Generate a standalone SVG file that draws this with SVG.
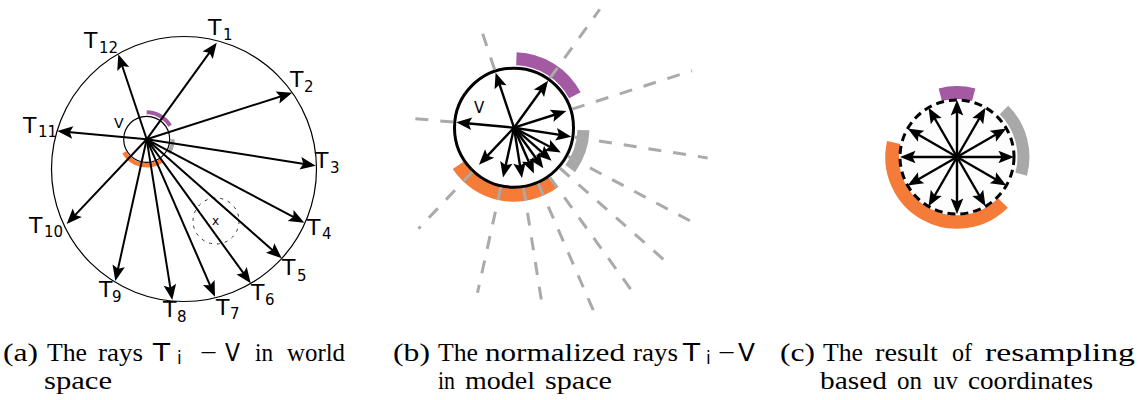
<svg xmlns="http://www.w3.org/2000/svg" width="1138" height="400" viewBox="0 0 1138 400">
<style>
.ray{stroke:#000;stroke-width:2;fill:none;marker-end:url(#ah)}
.rayb{stroke:#000;stroke-width:2.4;fill:none;marker-end:url(#ah)}
.dash{stroke:#aaa;stroke-width:3;stroke-dasharray:13 12;fill:none}
.lbl{font-family:"DejaVu Sans",sans-serif;font-size:22px;fill:#000}
.sub{font-size:15px}
.cap{font-family:"Liberation Serif",serif;font-size:25px;fill:#000}
.cs{font-family:"DejaVu Sans",sans-serif;font-size:24px;fill:#000}
.purple{stroke:#a45aa3;fill:none}
.orange{stroke:#f47b38;fill:none}
.gray{stroke:#a8a8a8;fill:none}
</style>
<defs>
<marker id="ah" viewBox="-17 -8 17 16" markerWidth="17" markerHeight="16" refX="-5" refY="0" orient="auto" markerUnits="userSpaceOnUse">
<path d="M0,0 L-15.5,-6.3 L-12.5,0 L-15.5,6.3 Z" fill="#000"/>
</marker>
</defs>
<rect width="1138" height="400" fill="#fff"/>

<!-- Panel (a) -->
<g id="panel-a">
  <g id="a-circles">
    <circle cx="184" cy="169" r="132.5" fill="none" stroke="#000" stroke-width="1.2"/>
    <circle cx="146.7" cy="139.3" r="23" fill="none" stroke="#000" stroke-width="1.2"/>
    <circle cx="216" cy="221" r="23" fill="none" stroke="#333" stroke-width="1" stroke-dasharray="3 5"/>
    <path class="purple" stroke-width="4" d="M146.7,112.3 A27,27 0 0 1 170.1,125.8"/>
    <path class="gray" stroke-width="4" d="M172.7,139.3 A26,26 0 0 1 168.75,153.1"/>
    <path class="orange" stroke-width="4.5" d="M161.6,160.6 A26,26 0 0 1 124.2,152.3"/>
  </g>
  <g id="a-rays">
    <line class="ray" x1="146.7" y1="139.3" x2="213.8" y2="46.7"/>
    <line class="ray" x1="146.7" y1="139.3" x2="287.5" y2="94.2"/>
    <line class="ray" x1="146.7" y1="139.3" x2="310.8" y2="164.9"/>
    <line class="ray" x1="146.7" y1="139.3" x2="299.9" y2="220.4"/>
    <line class="ray" x1="146.7" y1="139.3" x2="278.0" y2="255.0"/>
    <line class="ray" x1="146.7" y1="139.3" x2="247.8" y2="279.2"/>
    <line class="ray" x1="146.7" y1="139.3" x2="213.0" y2="292.1"/>
    <line class="ray" x1="146.7" y1="139.3" x2="171.5" y2="295.1"/>
    <line class="ray" x1="146.7" y1="139.3" x2="116.4" y2="276.1"/>
    <line class="ray" x1="146.7" y1="139.3" x2="70.1" y2="220.4"/>
    <line class="ray" x1="146.7" y1="139.3" x2="62.3" y2="131.5"/>
    <line class="ray" x1="146.7" y1="139.3" x2="119.9" y2="59.0"/>
  </g>
  <g id="a-labels">
    <text class="lbl" x="114" y="128" style="font-size:14px">V</text>
    <text class="lbl" x="212" y="225" style="font-size:12px">x</text>
    <text id="T1" class="lbl" x="208" y="35">T<tspan class="sub" x="223" y="40">1</tspan></text>
    <text id="T2" class="lbl" x="290" y="87">T<tspan class="sub" x="304" y="92">2</tspan></text>
    <text id="T3" class="lbl" x="315" y="168">T<tspan class="sub" x="330" y="173">3</tspan></text>
    <text id="T4" class="lbl" x="307" y="235">T<tspan class="sub" x="322" y="239">4</tspan></text>
    <text id="T5" class="lbl" x="282" y="275">T<tspan class="sub" x="297" y="281">5</tspan></text>
    <text id="T6" class="lbl" x="251" y="300">T<tspan class="sub" x="265" y="305">6</tspan></text>
    <text id="T7" class="lbl" x="216" y="315">T<tspan class="sub" x="230" y="319">7</tspan></text>
    <text id="T8" class="lbl" x="163" y="317">T<tspan class="sub" x="177" y="322">8</tspan></text>
    <text id="T9" class="lbl" x="99" y="297">T<tspan class="sub" x="112" y="302">9</tspan></text>
    <text id="T10" class="lbl" x="29" y="233">T<tspan class="sub" x="44" y="237">10</tspan></text>
    <text id="T11" class="lbl" x="23" y="133">T<tspan class="sub" x="38" y="137">11</tspan></text>
    <text id="T12" class="lbl" x="84" y="48">T<tspan class="sub" x="99" y="53">12</tspan></text>
  </g>
</g>

<!-- Panel (b) -->
<g id="panel-b">
  <g id="b-bands">
    <path class="purple" stroke-width="13" d="M516.4,58.7 A69,69 0 0 1 574.9,95.3"/>
    <path class="gray" stroke-width="12" d="M583.5,130.1 A69.5,69.5 0 0 1 570.2,168.6"/>
    <path class="orange" stroke-width="14" d="M552.4,182.6 A67,67 0 0 1 458.5,165.2"/>
  </g>
  <circle id="b-circle" cx="514" cy="127.7" r="59.5" fill="#fff" stroke="#000" stroke-width="3"/>
  <g id="b-dashed">
    <line class="dash" x1="494.7" y1="69.8" x2="479.8" y2="25.2"/>
    <line class="dash" x1="549.8" y1="78.3" x2="599.7" y2="9.4"/>
    <line class="dash" x1="572.1" y1="109.1" x2="692.0" y2="70.7"/>
    <line class="dash" x1="574.3" y1="137.1" x2="707.6" y2="157.9"/>
    <line class="dash" x1="567.9" y1="156.2" x2="700.5" y2="226.4"/>
    <line class="dash" x1="559.8" y1="168.0" x2="672.3" y2="267.2"/>
    <line class="dash" x1="549.7" y1="177.2" x2="635.9" y2="296.4"/>
    <line class="dash" x1="538.3" y1="183.6" x2="593.6" y2="311.1"/>
    <line class="dash" x1="523.6" y1="188.0" x2="543.0" y2="310.5"/>
    <line class="dash" x1="500.8" y1="187.3" x2="477.5" y2="292.8"/>
    <line class="dash" x1="472.1" y1="172.0" x2="418.5" y2="228.8"/>
    <line class="dash" x1="453.2" y1="122.1" x2="408.4" y2="118.0"/>
  </g>
  <g id="b-rays">
    <line class="rayb" x1="514" y1="127.7" x2="545.1" y2="84.8"/>
    <line class="rayb" x1="514" y1="127.7" x2="561.6" y2="112.5"/>
    <line class="rayb" x1="514" y1="127.7" x2="566.4" y2="135.9"/>
    <line class="rayb" x1="514" y1="127.7" x2="556.4" y2="150.2"/>
    <line class="rayb" x1="514" y1="127.7" x2="547.8" y2="157.4"/>
    <line class="rayb" x1="514" y1="127.7" x2="540.4" y2="164.2"/>
    <line class="rayb" x1="514" y1="127.7" x2="531.9" y2="169.0"/>
    <line class="rayb" x1="514" y1="127.7" x2="521.2" y2="173.1"/>
    <line class="rayb" x1="514" y1="127.7" x2="504.1" y2="172.6"/>
    <line class="rayb" x1="514" y1="127.7" x2="482.4" y2="161.1"/>
    <line class="rayb" x1="514" y1="127.7" x2="461.2" y2="122.8"/>
    <line class="rayb" x1="514" y1="127.7" x2="497.2" y2="77.4"/>
  </g>
  <text id="b-V" class="lbl" x="474" y="113" style="font-size:15px">V</text>
</g>

<!-- Panel (c) -->
<g id="panel-c">
  <g id="c-bands">
    <path class="purple" stroke-width="13" d="M940.3,94.7 A64.5,64.5 0 0 1 973.7,94.7"/>
    <path class="gray" stroke-width="12" d="M1004.0,110.0 A66.5,66.5 0 0 1 1021.2,174.2"/>
    <path class="orange" stroke-width="13.5" d="M1003.0,203.0 A65,65 0 0 1 893.7,142.4"/>
  </g>
  <circle id="c-circle" cx="957" cy="157" r="57" fill="#fdfdfd" stroke="#000" stroke-width="3" stroke-dasharray="8 5"/>
  <g id="c-rays">
    <line class="rayb" x1="957" y1="157" x2="1009" y2="157"/>
    <line class="rayb" x1="957" y1="157" x2="1002.0" y2="183.0"/>
    <line class="rayb" x1="957" y1="157" x2="983.0" y2="202.0"/>
    <line class="rayb" x1="957" y1="157" x2="957" y2="209"/>
    <line class="rayb" x1="957" y1="157" x2="931.0" y2="202.0"/>
    <line class="rayb" x1="957" y1="157" x2="912.0" y2="183.0"/>
    <line class="rayb" x1="957" y1="157" x2="905" y2="157"/>
    <line class="rayb" x1="957" y1="157" x2="912.0" y2="131.0"/>
    <line class="rayb" x1="957" y1="157" x2="931.0" y2="112.0"/>
    <line class="rayb" x1="957" y1="157" x2="957" y2="105"/>
    <line class="rayb" x1="957" y1="157" x2="983.0" y2="112.0"/>
    <line class="rayb" x1="957" y1="157" x2="1002.0" y2="131.0"/>
  </g>
</g>

<!-- Captions -->
<g id="caption-a">
  <text class="cap" x="3" y="361" textLength="35" lengthAdjust="spacingAndGlyphs">(a)</text>
  <text class="cap" x="47" y="361" textLength="40" lengthAdjust="spacingAndGlyphs">The</text>
  <text class="cap" x="98" y="361" textLength="45" lengthAdjust="spacingAndGlyphs">rays</text>
  <text class="cs" x="153" y="361" textLength="17" lengthAdjust="spacingAndGlyphs">T</text>
  <text class="cs" x="177" y="364" style="font-size:17px">i</text>
  <text class="cap" x="200" y="361" textLength="17" lengthAdjust="spacingAndGlyphs">−</text>
  <text class="cs" x="225" y="361" textLength="15" lengthAdjust="spacingAndGlyphs">V</text>
  <text class="cap" x="255" y="361" textLength="18" lengthAdjust="spacingAndGlyphs">in</text>
  <text class="cap" x="287" y="361" textLength="58" lengthAdjust="spacingAndGlyphs">world</text>
  <text class="cap" x="44" y="389" textLength="68" lengthAdjust="spacingAndGlyphs">space</text>
</g>
<g id="caption-b">
  <text class="cap" x="393" y="361" textLength="37" lengthAdjust="spacingAndGlyphs">(b)</text>
  <text class="cap" x="438" y="361" textLength="40" lengthAdjust="spacingAndGlyphs">The</text>
  <text class="cap" x="485" y="361" textLength="140" lengthAdjust="spacingAndGlyphs">normalized</text>
  <text class="cap" x="633" y="361" textLength="45" lengthAdjust="spacingAndGlyphs">rays</text>
  <text class="cs" x="683" y="361" textLength="17" lengthAdjust="spacingAndGlyphs">T</text>
  <text class="cs" x="706" y="364" style="font-size:17px">i</text>
  <text class="cap" x="718" y="361" textLength="17" lengthAdjust="spacingAndGlyphs">−</text>
  <text class="cs" x="738" y="361" textLength="17" lengthAdjust="spacingAndGlyphs">V</text>
  <text class="cap" x="438" y="389" textLength="17" lengthAdjust="spacingAndGlyphs">in</text>
  <text class="cap" x="465" y="389" textLength="70" lengthAdjust="spacingAndGlyphs">model</text>
  <text class="cap" x="545" y="389" textLength="67" lengthAdjust="spacingAndGlyphs">space</text>
</g>
<g id="caption-c">
  <text class="cap" x="780" y="361" textLength="35" lengthAdjust="spacingAndGlyphs">(c)</text>
  <text class="cap" x="823" y="361" textLength="40" lengthAdjust="spacingAndGlyphs">The</text>
  <text class="cap" x="875" y="361" textLength="63" lengthAdjust="spacingAndGlyphs">result</text>
  <text class="cap" x="952" y="361" textLength="20" lengthAdjust="spacingAndGlyphs">of</text>
  <text class="cap" x="985" y="361" textLength="150" lengthAdjust="spacingAndGlyphs">resampling</text>
  <text class="cap" x="820" y="389" textLength="67" lengthAdjust="spacingAndGlyphs">based</text>
  <text class="cap" x="897" y="389" textLength="25" lengthAdjust="spacingAndGlyphs">on</text>
  <text class="cap" x="933" y="389" textLength="25" lengthAdjust="spacingAndGlyphs">uv</text>
  <text class="cap" x="968" y="389" textLength="125" lengthAdjust="spacingAndGlyphs">coordinates</text>
</g>
</svg>
